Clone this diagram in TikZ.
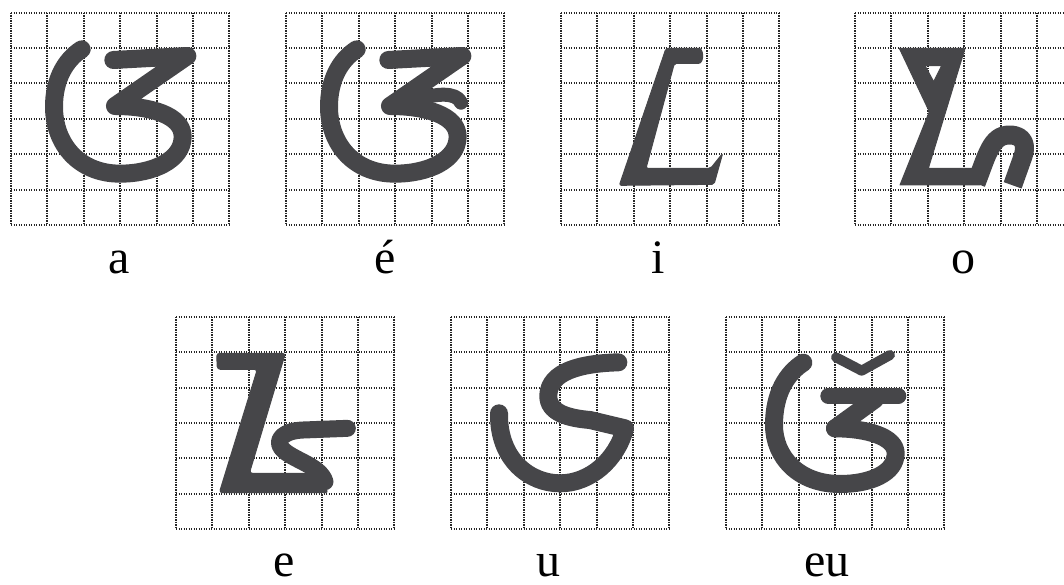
\documentclass[tikz,border=0pt]{standalone}
\usepackage{fontspec}
\setmainfont{Liberation Serif}
\definecolor{glyph}{HTML}{464649}
\definecolor{gridc}{HTML}{262626}
\begin{document}
\begin{tikzpicture}[x=1pt,y=-1pt,
  gridline/.style={gridc,line width=2pt,dash pattern=on 1.4pt off 1.1pt},
  gl/.style={glyph,line width=18pt,line cap=round,line join=round},
  glf/.style={fill=glyph,draw=glyph,line width=1pt,line join=round},
  lab/.style={anchor=base,font=\fontsize{48}{58}\selectfont,inner sep=0pt}]
\useasboundingbox (0,0) rectangle (1064,585);
\clip (0,0) rectangle (1064,585);
% grids
\foreach \gx/\gy in {11/12.7,286/12.7,561/12.7,855/12.7,176/316.7,451/316.7,726/316.7}{
  \foreach \i in {0,...,6}{
    \draw[gridline] ({\gx+\i*36.4},\gy) -- ({\gx+\i*36.4},{\gy+6*35.4});
    \draw[gridline] (\gx,{\gy+\i*35.4}) -- ({\gx+6*36.4},{\gy+\i*35.4});
  }
}
% a
\begin{scope}[shift={(0,0)},scale=1/3]
\draw[gl] (340,180) -- (562,168) -- (345,318) .. controls (450,318) and (548,345) .. (548,410) .. controls (548,480) and (460,521) .. (360,521) .. controls (235,521) and (162,430) .. (162,320) .. controls (162,240) and (195,180) .. (245,148);
\end{scope}
% e acute
\begin{scope}[shift={(270,0)},scale=1/3]
\draw[gl] (355,180) -- (577,168) -- (360,318) .. controls (465,318) and (563,345) .. (563,410) .. controls (563,480) and (475,521) .. (375,521) .. controls (250,521) and (177,430) .. (177,320) .. controls (177,240) and (210,180) .. (260,148);
\draw[gl,line width=14pt] (440,300) .. controls (495,280) and (560,275) .. (573,308);
\end{scope}
% i
\begin{scope}[shift={(540,0)},scale=1/3]
\filldraw[glf,rounded corners=2pt] (378,145) -- (470,145) .. controls (492,145) and (492,190) .. (470,190) -- (403,190) -- (318,505) -- (512,505) -- (548,460) -- (522,553) -- (238,556) -- cycle;
\end{scope}
% o
\begin{scope}[shift={(800,0)},scale=1/3]
\filldraw[glf,even odd rule] (298,145) -- (495,145) -- (385,505) -- (515,505) -- (540,555) -- (300,555) -- (388,335) -- cycle
  (375,197) -- (425,197) -- (401,245) -- cycle;
\draw[gl,line width=19pt,line cap=butt] (528,550) .. controls (560,470) and (572,405) .. (628,405) .. controls (675,405) and (680,440) .. (668,472) -- (638,556);
\end{scope}
% e
\begin{scope}[shift={(160,300)},scale=1/3]
\filldraw[glf,rounded corners=3pt] (170,160) -- (376,160) -- (268,520) -- (470,520) -- (505,578) -- (178,578) -- (292,208) -- (172,208) -- cycle;
\draw[gl,line width=17pt] (562,385) -- (430,390) .. controls (370,392) and (345,420) .. (365,445) .. controls (395,480) and (480,495) .. (495,545);
\end{scope}
% u
\begin{scope}[shift={(430,300)},scale=1/3]
\draw[gl] (207,340) .. controls (205,480) and (300,550) .. (390,550) .. controls (480,550) and (560,480) .. (585,385) -- (480,360) .. controls (420,355) and (352,340) .. (355,285) .. controls (358,215) and (450,190) .. (565,187);
\end{scope}
% eu
\begin{scope}[shift={(710,300)},scale=1/3]
\draw[gl] (375,385) .. controls (470,385) and (557,410) .. (557,460) .. controls (557,520) and (480,552) .. (390,552) .. controls (265,552) and (192,470) .. (192,375) .. controls (192,280) and (230,220) .. (280,188);
\draw[gl,line width=16pt] (355,288) -- (565,288);
\draw[gl] (495,298) -- (375,385);
\draw[gl,line width=10pt] (378,172) -- (455,212) -- (540,165);
\end{scope}
% labels
\node[lab] (la) at (119,273) {a};
\node[lab] (leacute) at (385,273) {é};
\node[lab] (li) at (658,273) {i};
\node[lab] (lo) at (963,273) {o};
\node[lab] (le) at (284,576) {e};
\node[lab] (lu) at (548,576) {u};
\node[lab] (leu) at (827,576) {eu};
\end{tikzpicture}
\end{document}
